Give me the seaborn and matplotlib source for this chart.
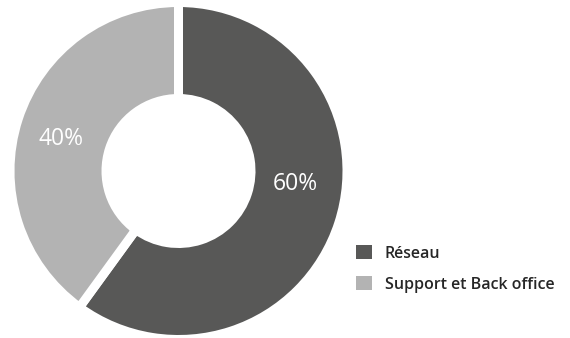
import matplotlib
matplotlib.use("Agg")
import matplotlib.pyplot as plt
from matplotlib.patches import Patch
import seaborn as sns

# Share of staff by activity
categories = ["Réseau", "Support et Back office"]
shares = [60, 40]
value_labels = ["60%", "40%"]
colors = ["#585857", "#b3b3b3"]

sns.set_theme(style="white")
plt.rcParams["font.family"] = ["Open Sans", "DejaVu Sans"]

fig = plt.figure(figsize=(5.70, 3.38), dpi=100)
ax = fig.add_axes([0, 0, 1, 1])

cx, cy = 178.5, 167.0
gap = 9.0  # white separation between slices, in pixels
lw_pt = gap * 72 / fig.dpi

wedges, _ = ax.pie(
    shares,
    colors=colors,
    startangle=90,
    counterclock=False,
    center=(cx, cy),
    radius=164 + gap / 2,
    wedgeprops=dict(width=87 + gap, edgecolor="white", linewidth=lw_pt),
    frame=True,
)
ax.set_xlim(0, 570)
ax.set_ylim(0, 338)
ax.set_aspect("equal")
ax.axis("off")

# Value labels inside the ring
label_pos = [(295, 154), (61, 199)]
for (x, y), txt in zip(label_pos, value_labels):
    ax.text(x, y, txt, color="white", fontsize=16.5, ha="center", va="center")

handles = [Patch(facecolor=c, edgecolor="none") for c in colors]
leg = ax.legend(
    handles, categories,
    loc="upper left",
    bbox_to_anchor=(356 / 570, 1 - 245 / 338),
    frameon=False,
    prop=dict(size=11.5, weight="semibold"),
    handlelength=1.0,
    handleheight=1.0,
    handletextpad=0.8,
    labelspacing=0.9,
    borderaxespad=0,
    borderpad=0,
)

fig.savefig("out.png", dpi=100)
